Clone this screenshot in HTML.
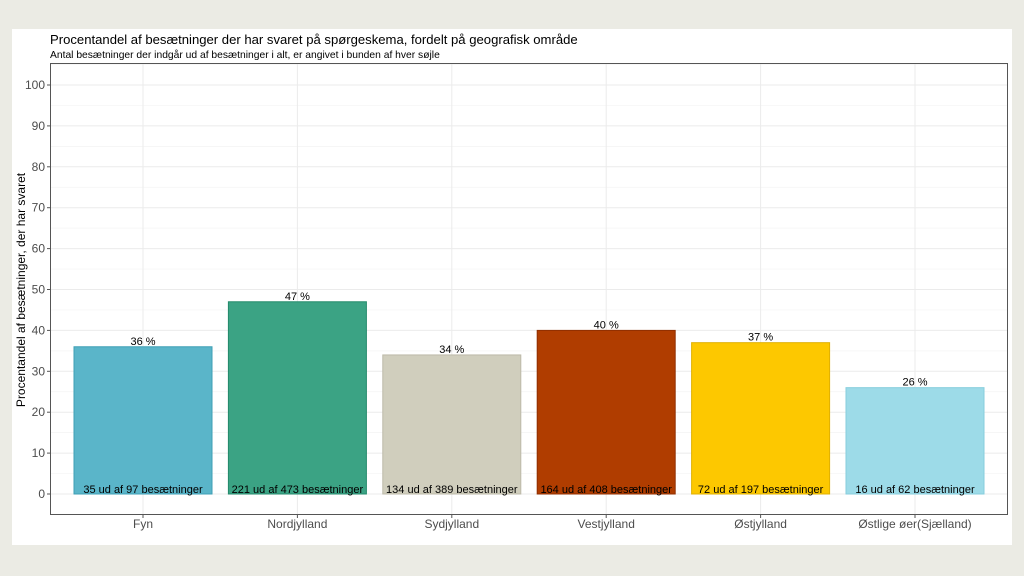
<!DOCTYPE html>
<html><head><meta charset="utf-8"><style>
body{margin:0;background:#ebebe4;font-family:"Liberation Sans",sans-serif}
svg{display:block}
</style></head><body>
<svg width="1024" height="576">
<rect x="0" y="0" width="1024" height="576" fill="#ebebe4"/>
<rect x="12" y="29" width="1000" height="516" fill="#fff"/>
<text x="50" y="44" font-size="13.1" fill="#000">Procentandel af besætninger der har svaret på spørgeskema, fordelt på geografisk område</text>
<text x="50" y="58" font-size="10.3" fill="#000">Antal besætninger der indgår ud af besætninger i alt, er angivet i bunden af hver søjle</text>
<g id="grid"></g>
<g id="bars"></g>
<rect x="50.5" y="63.5" width="957" height="451" fill="none" stroke="#555" stroke-width="1"/>
<text transform="translate(25,290) rotate(-90)" text-anchor="middle" font-size="12" fill="#000">Procentandel af besætninger, der har svaret</text>
<g id="axes"></g>
</svg>
<script>
const categories=["Fyn","Nordjylland","Sydjylland","Vestjylland","Østjylland","Østlige øer(Sjælland)"];
const values=[36,47,34,40,37,26];
const counts=["35 ud af 97 besætninger","221 ud af 473 besætninger","134 ud af 389 besætninger","164 ud af 408 besætninger","72 ud af 197 besætninger","16 ud af 62 besætninger"];
const yTicks=[0,10,20,30,40,50,60,70,80,90,100];
const fills=["#5ab5c9","#3ba384","#d0cebd","#b03d00","#fdc800","#9ddbe8"];
const strokes=["#3e9fb5","#238a6b","#bcb9a8","#902f00","#e0b000","#86cedd"];
const NS="http://www.w3.org/2000/svg";
const L=50,R=1008,step=154.4;
const y=v=>494-v*4.09;
const x=i=>143+step*i;
function mk(t,a,p,txt){const e=document.createElementNS(NS,t);for(const k in a)e.setAttribute(k,a[k]);if(txt!==undefined)e.textContent=txt;p.appendChild(e);return e;}
const grid=document.getElementById('grid'),bars=document.getElementById('bars'),axes=document.getElementById('axes');
for(let v=-5;v<=105;v+=5){const g=mk('line',{x1:L,x2:R,y1:y(v),y2:y(v),stroke:v%10===0?'#ebebeb':'#f4f4f4','stroke-width':v%10===0?1:0.7},grid);

}
categories.forEach((c,i)=>{const g=mk('line',{x1:x(i),x2:x(i),y1:64,y2:514,stroke:'#ebebeb'},grid);

});
yTicks.forEach(v=>{
const t=mk('text',{x:45,y:y(v)+4,'text-anchor':'end','font-size':12,fill:'#4d4d4d'},axes,String(v));


mk('line',{x1:47,x2:50,y1:y(v),y2:y(v),stroke:'#555'},axes);});
const bw=138;
categories.forEach((c,i)=>{
const r=mk('rect',{x:x(i)-bw/2,y:y(values[i]),width:bw,height:y(0)-y(values[i]),fill:fills[i],stroke:strokes[i]},bars);


const v=mk('text',{x:x(i),y:y(values[i])-2,'text-anchor':'middle','font-size':11,fill:'#000'},bars,values[i]+' %');


const n=mk('text',{x:x(i),y:y(0)-1,'text-anchor':'middle','font-size':11,fill:'#000'},bars,counts[i]);


const t=mk('text',{x:x(i),y:528,'text-anchor':'middle','font-size':12,fill:'#4d4d4d'},axes,c);


mk('line',{x1:x(i),x2:x(i),y1:515,y2:518,stroke:'#555'},axes);
});
</script>
</body></html>
